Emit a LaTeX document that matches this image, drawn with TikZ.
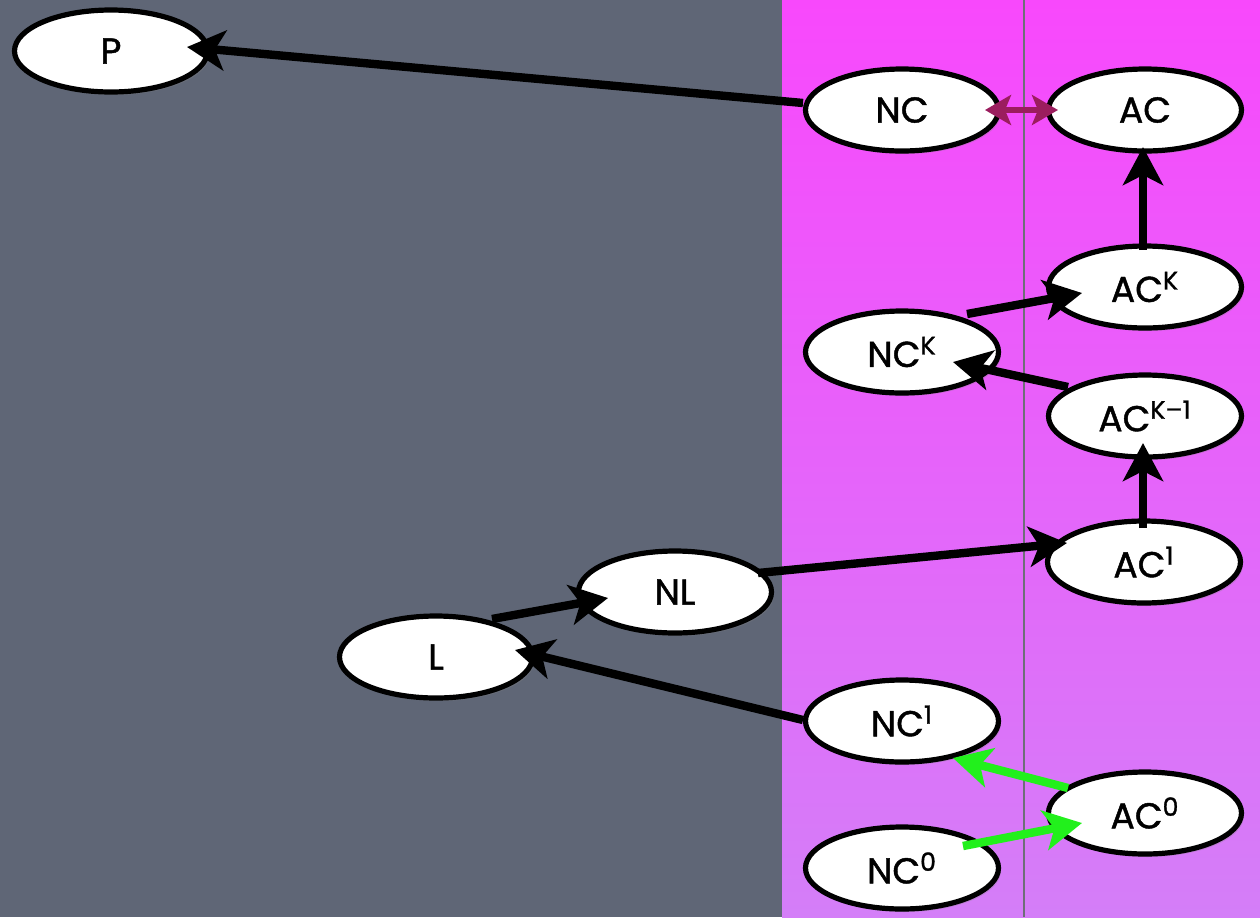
\documentclass[tikz,border=0pt]{standalone}
\usepackage{fontspec}
\setmainfont{Poppins}[BoldFont={Poppins}, BoldFeatures={FakeBold=1.2}]
\usetikzlibrary{shapes.geometric,arrows.meta,calc,shadows}
\definecolor{slate}{HTML}{5F6676}
\definecolor{magtop}{HTML}{F848FC}
\definecolor{magmid}{HTML}{E266F9}
\definecolor{magbot}{HTML}{D47EF8}
\definecolor{pairarrow}{HTML}{9B1D5E}
\definecolor{greenarrow}{HTML}{22F01C}
\definecolor{divider}{HTML}{6E6E78}

\begin{document}
\begin{tikzpicture}[x=0.5pt,y=-0.5pt,
  state/.style={ellipse, draw=black, line width=2.6pt, fill=white,
    minimum width=96.5pt, minimum height=41pt, inner sep=0pt,
    font=\fontsize{18}{20}\selectfont\bfseries,
    drop shadow={shadow xshift=1.2pt, shadow yshift=-1.5pt, opacity=0.3}},
  bigtip/.style={-{Stealth[length=19pt,width=20pt,inset=5pt]}},
  link/.style={line width=4.2pt, draw=black, bigtip},
  greenlink/.style={line width=4.2pt, draw=greenarrow, bigtip},
  pairlink/.style={line width=2.6pt, draw=pairarrow,
    {Stealth[length=13pt,width=15pt,inset=3pt]}-{Stealth[length=13pt,width=15pt,inset=3pt]}}
]
% backdrop: slate board on the left, magenta panel on the right
\useasboundingbox (0,0) rectangle (1260,917);
\fill[slate] (0,0) rectangle (782,917);
\shade[top color=magtop, middle color=magmid, bottom color=magbot] (782,0) rectangle (1260,917);
\draw[divider, line width=1pt] (1024,0) -- (1024,917);

% nodes
\node[state] (P)    at (111,51)  {P};
\node[state] (NC)   at (902,110) {NC};
\node[state] (AC)   at (1145,110) {AC};
\node[state] (ACK)  at (1145,287) {AC\textsuperscript{K}};
\node[state] (NCK)  at (902,352) {NC\textsuperscript{K}};
\node[state] (ACK1) at (1145,416) {AC\textsuperscript{K–1}};
\node[state] (AC1)  at (1144,562) {AC\textsuperscript{1}};
\node[state] (NL)   at (675,592) {NL};
\node[state] (L)    at (436,657) {L};
\node[state] (NC1)  at (902,721) {NC\textsuperscript{1}};
\node[state] (AC0)  at (1145,813) {AC\textsuperscript{0}};
\node[state] (NC0)  at (902,868) {NC\textsuperscript{0}};

% connectors
\draw[link] ($(NC)+(-99,-7)$) -- ($(P)+(76,-4)$);
\draw[pairlink] ($(NC)+(83,0)$) -- ($(AC)+(-87,0)$);
\draw[link] ($(ACK)+(-2,-37)$) -- ($(AC)+(-2,37)$);
\draw[link] ($(NCK)+(65,-38)$) -- ($(ACK)+(-63,6)$);
\draw[link] ($(ACK1)+(-77,-29)$) -- ($(NCK)+(51,10)$);
\draw[link] ($(AC1)+(-1,-34)$) -- ($(ACK1)+(-2,27)$);
\draw[link] ($(NL)+(83,-19)$) -- ($(AC1)+(-77,-19)$);
\draw[link] ($(L)+(56,-38)$) -- ($(NL)+(-67,6)$);
\draw[link] ($(NC1)+(-99,-1)$) -- ($(L)+(79,-7)$);
\draw[greenlink] ($(AC0)+(-77,-25)$) -- ($(NC1)+(51,37)$);
\draw[greenlink] ($(NC0)+(61,-22)$) -- ($(AC0)+(-63,10)$);
\end{tikzpicture}
\end{document}
